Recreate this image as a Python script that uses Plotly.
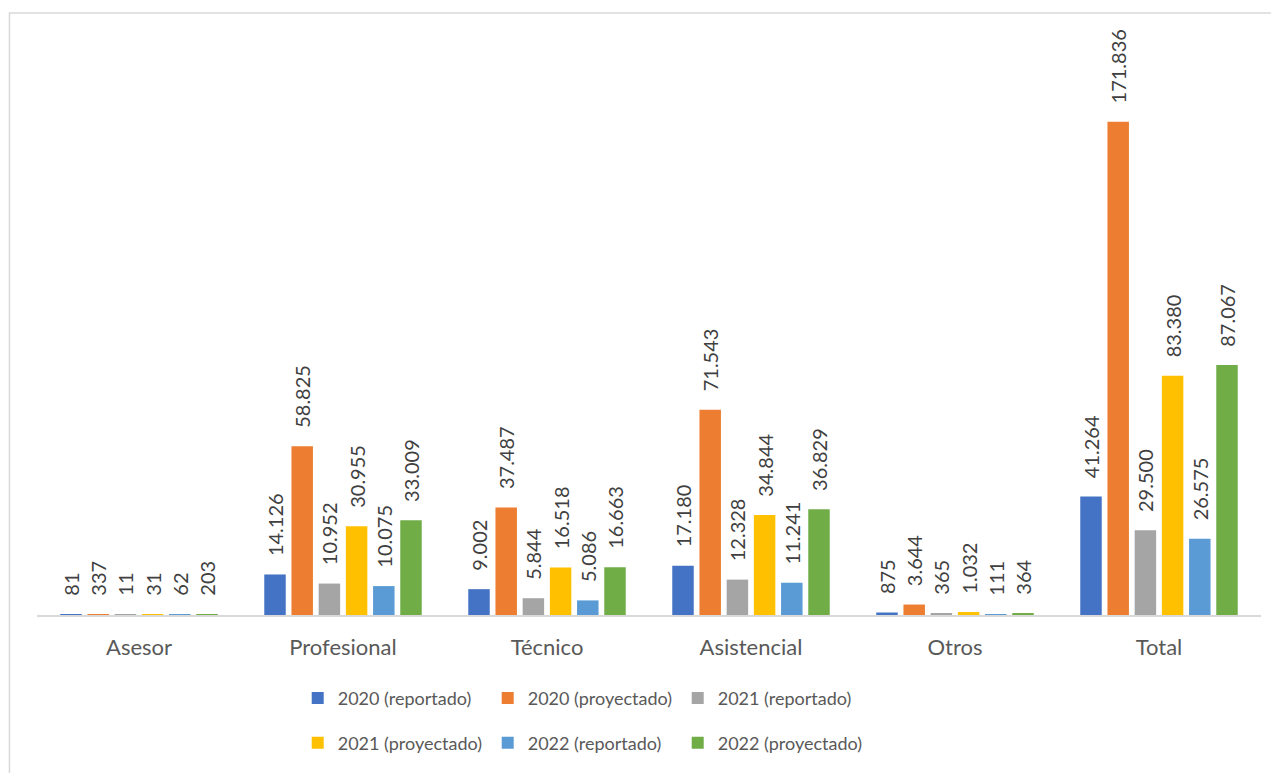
import plotly.graph_objects as go

categories = ["Asesor", "Profesional", "Técnico", "Asistencial", "Otros", "Total"]

series_names = [
    "2020 (reportado)", "2020 (proyectado)", "2021 (reportado)",
    "2021 (proyectado)", "2022 (reportado)", "2022 (proyectado)",
]

rep_2020 = [81, 14126, 9002, 17180, 875, 41264]
proy_2020 = [337, 58825, 37487, 71543, 3644, 171836]
rep_2021 = [11, 10952, 5844, 12328, 365, 29500]
proy_2021 = [31, 30955, 16518, 34844, 1032, 83380]
rep_2022 = [62, 10075, 5086, 11241, 111, 26575]
proy_2022 = [203, 33009, 16663, 36829, 364, 87067]

colors = ["#4472C4", "#ED7D31", "#A5A5A5", "#FFC000", "#5B9BD5", "#70AD47"]

FONT = "Lato"


def fmt(v):
    # excel style thousands separator, pushed up a bit from the bar top
    return "\u00a0" * 3 + f"{v:,}".replace(",", ".")


all_values = [rep_2020, proy_2020, rep_2021, proy_2021, rep_2022, proy_2022]

fig = go.Figure()
for i, (name, vals) in enumerate(zip(series_names, all_values)):
    fig.add_trace(go.Bar(
        x=categories, y=vals, name=name,
        marker=dict(color=colors[i], line=dict(width=0)),
        text=[fmt(v) for v in vals],
        textposition="outside", textangle=-90,
        textfont=dict(family=FONT, size=20, color="#404040"),
        constraintext="none", cliponaxis=False,
        legend="legend" if i < 3 else "legend2",
    ))

legend_style = dict(
    orientation="h", xanchor="left", yanchor="middle", x=0.213,
    font=dict(family=FONT, size=18, color="#595959"),
    entrywidth=145, itemwidth=30, bgcolor="rgba(0,0,0,0)",
)

# page body has an 8px margin, so margins are trimmed by 8 on left/top
fig.update_layout(
    width=1279, height=773,
    margin=dict(l=29, r=26, t=33, b=166),
    plot_bgcolor="white", paper_bgcolor="white",
    barmode="group", bargap=0.2, bargroupgap=0.21,
    legend=dict(legend_style, y=-0.145),
    legend2=dict(legend_style, y=-0.223),
    xaxis=dict(
        showline=True, linecolor="#d9d9d9", linewidth=1.5,
        ticks="outside", ticklen=12, tickcolor="rgba(0,0,0,0)",
        tickfont=dict(family=FONT, size=22, color="#595959"),
        showgrid=False, zeroline=False,
    ),
    yaxis=dict(range=[0, 200000], visible=False, showgrid=False),
    shapes=[dict(
        type="rect", xref="paper", yref="paper",
        x0=-0.0225, x1=1.03, y0=-0.3, y1=1.0488,
        line=dict(color="#d9d9d9", width=1.5), fillcolor="rgba(0,0,0,0)",
        layer="below",
    )],
)

fig.write_html("out.html")
